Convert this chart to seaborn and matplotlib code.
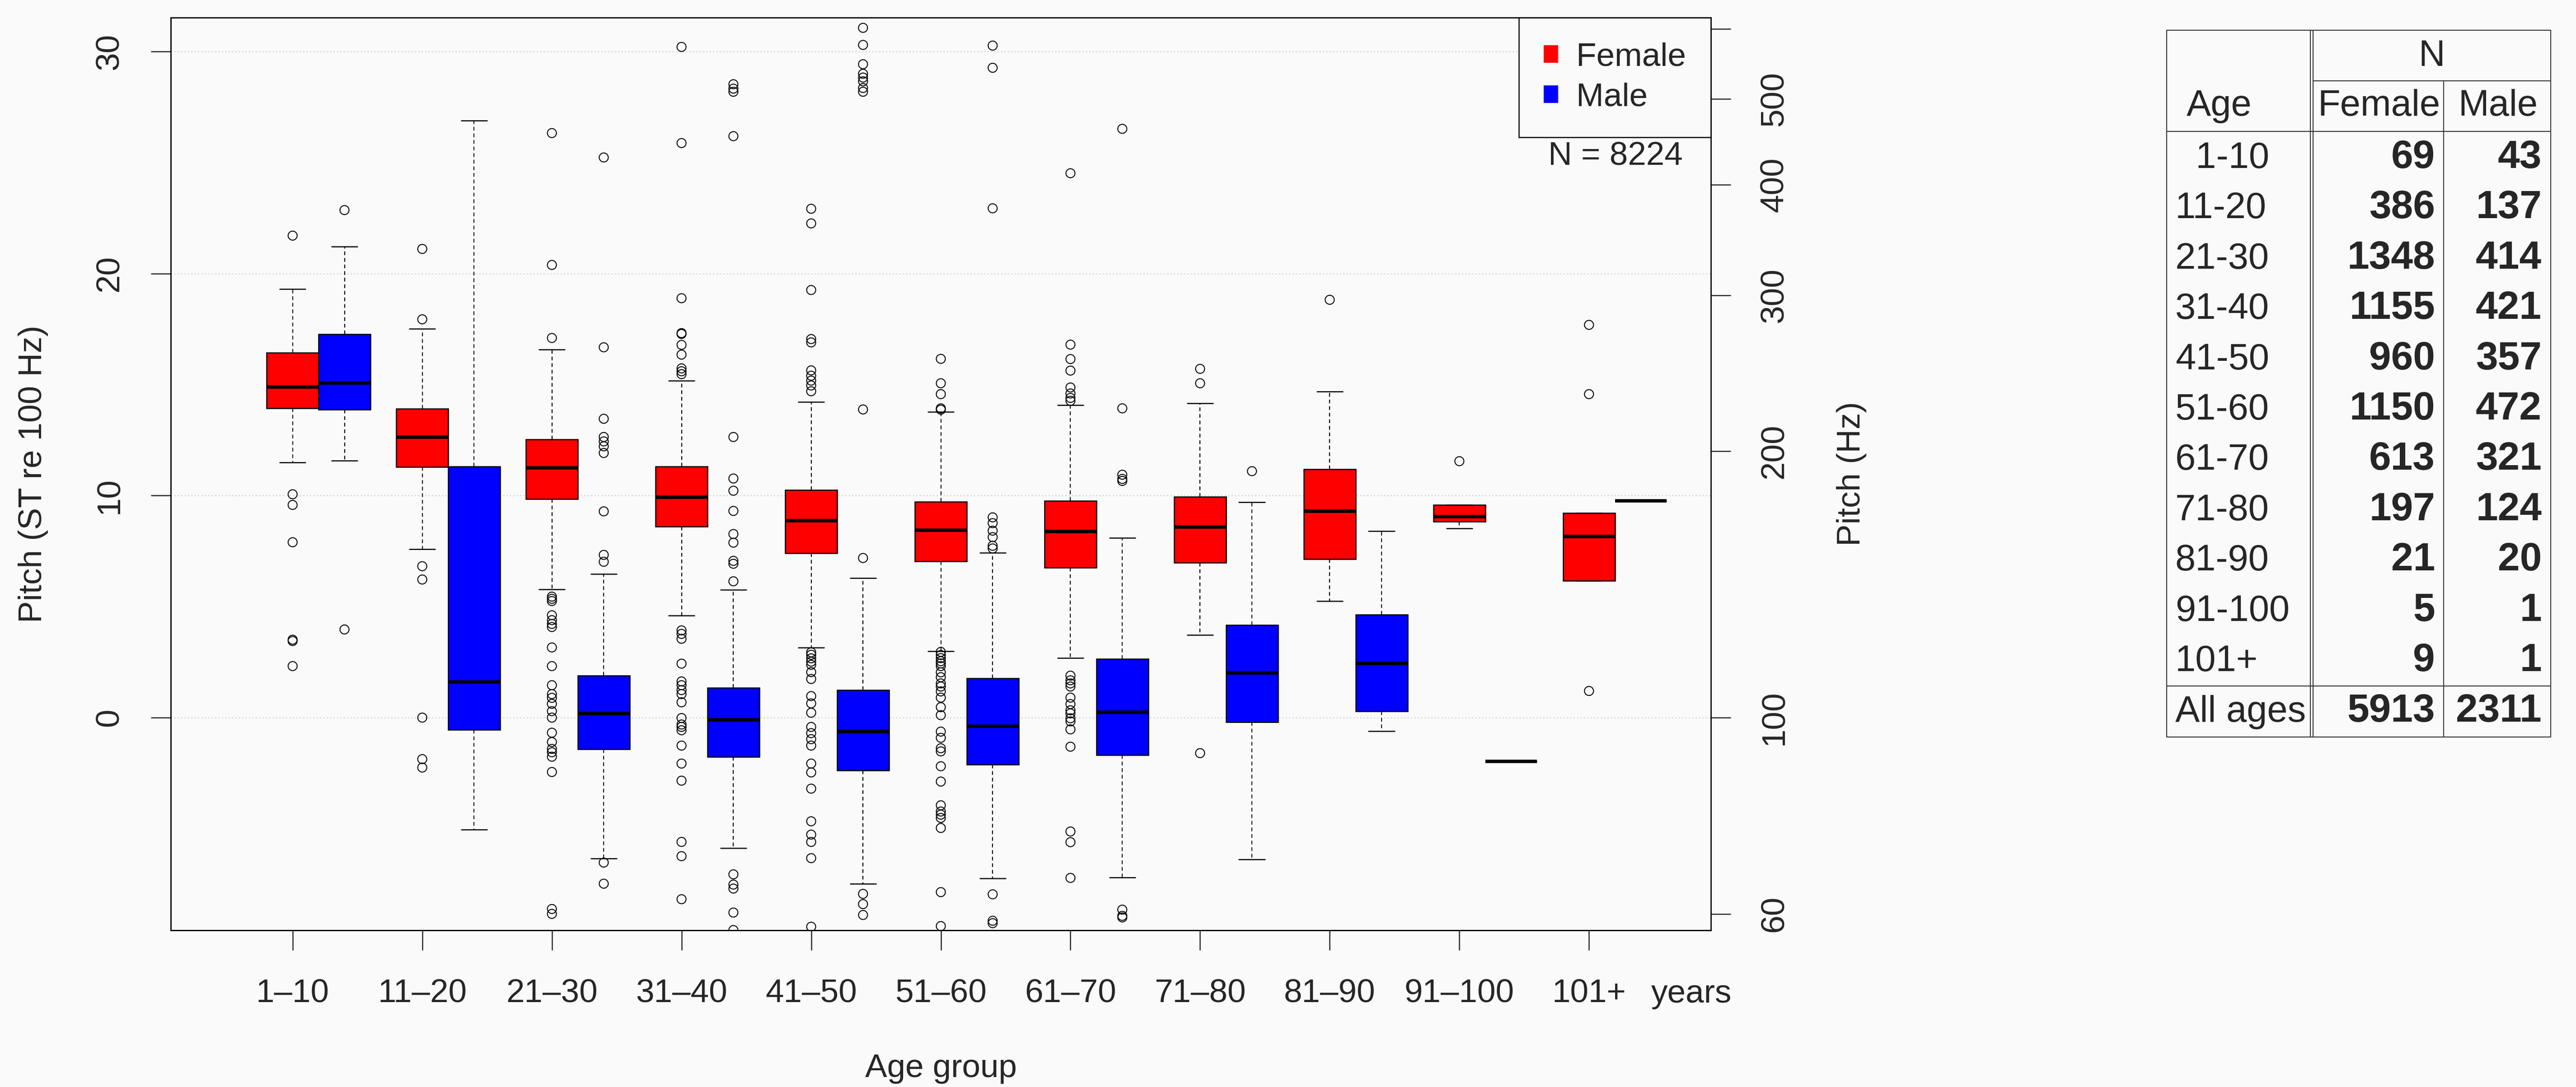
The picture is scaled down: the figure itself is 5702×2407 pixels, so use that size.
import numpy as np
import pandas as pd
import seaborn as sns
import matplotlib.pyplot as plt
from matplotlib.lines import Line2D
from matplotlib.patches import Patch

# ---- data ----
ages = ["1–10", "11–20", "21–30", "31–40", "41–50", "51–60",
        "61–70", "71–80", "81–90", "91–100", "101+"]
sexes = ["Female", "Male"]

# five-number summaries: lower whisker, Q1, median, Q3, upper whisker (ST re 100 Hz)
female_box = [
    [11.50, 13.94, 14.89, 16.44, 19.30],
    [7.59, 11.30, 12.64, 13.92, 17.52],
    [5.78, 9.84, 11.25, 12.53, 16.57],
    [4.59, 8.61, 9.93, 11.32, 15.18],
    [3.16, 7.41, 8.87, 10.26, 14.21],
    [3.00, 7.03, 8.45, 9.72, 13.78],
    [2.68, 6.75, 8.39, 9.76, 14.08],
    [3.73, 6.97, 8.59, 9.94, 14.16],
    [5.24, 7.14, 9.30, 11.18, 14.68],
    [8.52, 8.83, 9.05, 9.59, 9.59],
    [6.17, 6.17, 8.16, 9.22, 9.22],
]
male_box = [
    [11.58, 13.88, 15.07, 17.28, 21.22],
    [-5.05, -0.55, 1.61, 11.32, 26.90],
    [-6.35, -1.43, 0.18, 1.90, 6.47],
    [-5.87, -1.76, -0.11, 1.35, 5.76],
    [-7.48, -2.38, -0.62, 1.24, 6.29],
    [-7.25, -2.11, -0.38, 1.78, 7.42],
    [-7.21, -1.68, 0.24, 2.65, 8.09],
    [-6.38, -0.21, 2.02, 4.17, 9.70],
    [-0.61, 0.29, 2.44, 4.63, 8.40],
    [-1.97, -1.97, -1.97, -1.97, -1.97],
    [9.77, 9.77, 9.77, 9.77, 9.77],
]

female_out = [
    [21.71, 10.06, 9.58, 7.90, 3.51, 3.45, 2.32],
    [21.11, 17.94, 6.82, 6.22, 0.00, -1.87, -2.25],
    [26.33, 20.39, 17.10, 5.45, 5.35, 5.25, 4.61, 4.39, 4.22, 4.08, 3.16, 2.32,
     1.46, 1.06, 0.89, 0.62, 0.29, 0.00, -0.68, -1.10, -1.41, -1.56, -1.76,
     -2.45, -8.62, -8.84],
    [30.21, 25.88, 18.89, 17.32, 17.28, 16.79, 16.35, 15.73, 15.60, 15.47, 3.93,
     3.77, 3.55, 2.43, 1.63, 1.46, 1.24, 1.06, 0.69, -0.02, -0.31, -0.42, -0.57,
     -1.26, -2.07, -2.84, -5.60, -6.24, -8.18],
    [22.92, 22.26, 19.26, 17.05, 16.90, 15.64, 15.40, 15.18, 14.96, 14.70, 2.94,
     2.83, 2.67, 2.52, 2.38, 2.05, 1.74, 0.97, 0.64, 0.22, -0.42, -0.70, -0.97,
     -1.26, -2.07, -2.47, -3.20, -4.67, -5.27, -5.60, -6.33, -9.42],
    [16.16, 15.06, 14.57, 13.93, 13.87, 2.96, 2.82, 2.68, 2.54, 2.44, 2.32, 2.04,
     1.82, 1.54, 1.40, 1.18, 0.90, 0.47, 0.11, -0.63, -0.91, -1.38, -1.52, -2.19,
     -2.88, -3.95, -4.23, -4.37, -4.52, -4.97, -7.86, -9.39],
    [24.52, 16.80, 16.15, 15.63, 14.87, 14.60, 14.40, 14.27, 1.89, 1.68, 1.54,
     1.40, 0.90, 0.61, 0.33, 0.19, -0.03, -0.17, -0.53, -1.31, -5.13, -5.61,
     -7.22],
    [15.71, 15.06, -1.60],
    [18.82],
    [11.55],
    [17.69, 14.57, 1.20],
]
male_out = [
    [22.86, 3.97],
    [],
    [25.23, 16.68, 13.46, 12.64, 12.44, 12.22, 11.92, 9.29, 7.33, 7.02, -6.53,
     -7.48],
    [28.53, 28.33, 28.19, 26.19, 12.64, 10.77, 10.22, 9.31, 8.27, 7.88, 7.06,
     6.93, 6.14, -7.06, -7.52, -7.70, -8.78, -9.57],
    [31.07, 30.30, 29.43, 29.00, 28.83, 28.66, 28.36, 28.19, 13.88, 7.19, -7.94,
     -8.40, -8.89],
    [30.27, 29.27, 22.94, 9.02, 8.76, 8.42, 8.13, 7.74, 7.62, -7.96, -9.15, -9.26],
    [26.52, 13.93, 10.94, 10.75, 10.66, -8.65, -8.93, -9.00],
    [11.10],
    [],
    [],
    [],
]

n_female = [69, 386, 1348, 1155, 960, 1150, 613, 197, 21, 5, 9]
n_male = [43, 137, 414, 421, 357, 472, 321, 124, 20, 1, 1]

hz_ticks = [60, 100, 200, 300, 400, 500, 600]
hz_labels = ["60", "100", "200", "300", "400", "500", ""]
st_ticks = [0, 10, 20, 30]

# ---- figure setup ----
W, H, DPI = 5702, 2407, 300
BG = "#fafafa"
FS = 17.5

sns.set_theme(style="ticks")
plt.rcParams["font.family"] = ["Liberation Sans", "DejaVu Sans"]
plt.rcParams["axes.edgecolor"] = "black"

rows = []
for sex, stats in zip(sexes, [female_box, male_box]):
    for age, five in zip(ages, stats):
        for v in five:
            rows.append((age, sex, v))
box_df = pd.DataFrame(rows, columns=["age", "sex", "st"])

rows = []
for sex, outs in zip(sexes, [female_out, male_out]):
    for age, vals in zip(ages, outs):
        for v in vals:
            rows.append((age, sex, v))
out_df = pd.DataFrame(rows, columns=["age", "sex", "st"])

fig = plt.figure(figsize=(W / DPI, H / DPI), dpi=DPI, facecolor=BG)
ax = fig.add_axes([378 / W, 1 - 2060 / H, (3787 - 378) / W, (2060 - 39) / H])
ax.set_facecolor(BG)

for y in st_ticks:
    ax.axhline(y, color="#cfcfcf", lw=0.6, ls=(0, (1, 2)), zorder=0)

palette = {"Female": "#ff0000", "Male": "#0000ff"}
sns.boxplot(data=box_df, x="age", y="st", hue="sex", order=ages, hue_order=sexes,
            palette=palette, saturation=1, whis=(0, 100), showfliers=False,
            width=0.8, gap=0, linecolor="black", linewidth=0.6,
            medianprops=dict(linewidth=1.8),
            whiskerprops=dict(linestyle=(0, (4, 3)), linewidth=0.5),
            legend=False, ax=ax)

n0 = len(ax.collections)
sns.stripplot(data=out_df, x="age", y="st", hue="sex", order=ages, hue_order=sexes,
              palette={"Female": "black", "Male": "black"}, dodge=True,
              jitter=False, size=4.8, linewidth=0.5, edgecolor="black",
              legend=False, ax=ax)
for c in ax.collections[n0:]:
    c.set_facecolor("none")
    c.set_edgecolor("black")
    c.set_linewidth(0.5)

ax.set_xlim(-1.14, 10.74)
ax.set_ylim(-9.58, 31.53)
ax.set_xticks(np.arange(len(ages)) - 0.2, ages)
ax.set_yticks(st_ticks, [str(t) for t in st_ticks])
ax.tick_params(axis="x", length=10.6, width=0.6, pad=15, labelsize=FS)
ax.tick_params(axis="y", length=10.6, width=0.6, pad=14, labelsize=FS,
               labelrotation=90)
for lab in ax.get_yticklabels():
    lab.set_va("center")
for sp in ax.spines.values():
    sp.set_linewidth(0.6)
    sp.set_visible(True)

ax.set_xlabel("Age group", fontsize=FS, va="center")
ax.xaxis.set_label_coords(0.5, -(2367 - 2060) / (2060 - 39))
ax.set_ylabel("Pitch (ST re 100 Hz)", fontsize=FS, va="center")
ax.yaxis.set_label_coords((73 - 378) / (3787 - 378), 0.5)

ax.text(10.59, -(2168 - 2060) / (2060 - 39), "years", fontsize=FS,
        ha="center", va="top", transform=ax.get_xaxis_transform())

# right axis in Hz
ax2 = ax.twinx()
ax2.set_ylim(ax.get_ylim())
ax2.set_yticks([12 * np.log2(f / 100) for f in hz_ticks], hz_labels)
ax2.tick_params(axis="y", length=10.6, width=0.6, pad=15, labelsize=FS,
                labelrotation=90)
for lab in ax2.get_yticklabels():
    lab.set_va("center")
ax2.set_ylabel("Pitch (Hz)", fontsize=FS, va="center", rotation=90)
ax2.yaxis.set_label_coords((4098 - 378) / (3787 - 378), 0.5)
for sp in ax2.spines.values():
    sp.set_linewidth(0.6)

# legend + N
handles = [Patch(facecolor=palette[s], edgecolor="none") for s in sexes]
leg = ax.legend(handles, sexes, loc="upper right", bbox_to_anchor=(1, 1),
                borderaxespad=0, frameon=True, fancybox=False, edgecolor="black",
                facecolor=BG, framealpha=1, fontsize=FS, handlelength=0.45,
                handleheight=0.45, handletextpad=0.55, borderpad=0.75,
                labelspacing=0.3)
leg.get_frame().set_linewidth(0.6)
ax.text((3576 - 378) / (3787 - 378), 1 - (346 - 39) / (2060 - 39), "N = 8224",
        fontsize=FS, ha="center", va="center", transform=ax.transAxes)

# ---- table of counts ----
TFS = 19.5
TFS_B = 21


def fx(x):
    return x / W


def fy(y):
    return 1 - y / H


def hline(x0, x1, y):
    fig.add_artist(Line2D([fx(x0), fx(x1)], [fy(y), fy(y)], color="#333333", lw=0.5))


def vline(x, y0, y1):
    fig.add_artist(Line2D([fx(x), fx(x)], [fy(y0), fy(y1)], color="#333333", lw=0.5))


T_L, T_D1, T_D2, T_C, T_R = 4796, 5114, 5120, 5409, 5646
T_TOP, T_N, T_HEAD, T_SUM, T_BOT = 67, 179, 291, 1519, 1632
hline(T_L, T_R, T_TOP)
hline(T_L, T_R, T_BOT)
hline(T_L, T_R, T_HEAD)
hline(T_L, T_R, T_SUM)
hline(T_D2, T_R, T_N)
vline(T_L, T_TOP, T_BOT)
vline(T_R, T_TOP, T_BOT)
vline(T_D1, T_TOP, T_BOT)
vline(T_D2, T_TOP, T_BOT)
vline(T_C, T_N, T_BOT)

fig.text(fx(5383), fy(146), "N", fontsize=TFS, ha="center", va="baseline")
fig.text(fx(4912), fy(256), "Age", fontsize=TFS, ha="center", va="baseline")
fig.text(fx(5266), fy(256), "Female", fontsize=TFS, ha="center", va="baseline")
fig.text(fx(5529), fy(256), "Male", fontsize=TFS, ha="center", va="baseline")

table_ages = [a.replace("–", "-") for a in ages]
for i, (age, nf, nm) in enumerate(zip(table_ages, n_female, n_male)):
    yb = 372 + 111.4 * i
    lab = "\u2007" + age if age == "1-10" else age
    fig.text(fx(4815), fy(yb), lab, fontsize=TFS, ha="left", va="baseline")
    fig.text(fx(5390), fy(yb), str(nf), fontsize=TFS_B, ha="right", va="baseline",
             fontweight="bold")
    fig.text(fx(5626), fy(yb), str(nm), fontsize=TFS_B, ha="right", va="baseline",
             fontweight="bold")

fig.text(fx(4815), fy(1598), "All ages", fontsize=TFS, ha="left", va="baseline")
fig.text(fx(5390), fy(1598), str(sum(n_female)), fontsize=TFS_B, ha="right",
         va="baseline", fontweight="bold")
fig.text(fx(5626), fy(1598), str(sum(n_male)), fontsize=TFS_B, ha="right",
         va="baseline", fontweight="bold")

fig.savefig("out.png", dpi=DPI, facecolor=BG)
